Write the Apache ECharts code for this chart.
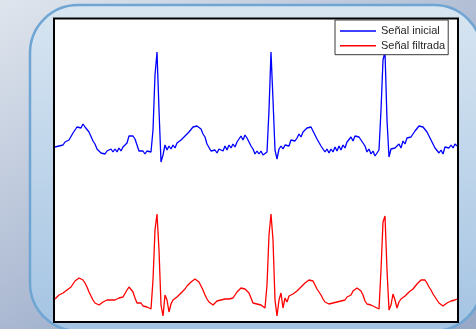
<!DOCTYPE html>
<html>
<head>
<meta charset="utf-8">
<script src="https://cdn.jsdelivr.net/npm/echarts@6/dist/echarts.min.js"></script>
<style>
  html, body { margin: 0; padding: 0; }
  #chart { width: 476px; height: 329px; }
</style>
</head>
<body>
<div id="chart"></div>
<script>
// ECG traces, one value per sample (sample index on the x axis).
const seriesNames = ['Señal inicial', 'Señal filtrada'];

// Raw signal (drawn in the upper half).
const senalInicial = [
  1.53,1.55,1.54,1.56,1.55,1.58,1.57,1.60,1.62,1.67,
  1.68,1.73,1.74,1.72,1.76,1.73,1.74,1.68,1.66,1.59,
  1.56,1.51,1.50,1.47,1.49,1.46,1.49,1.47,1.51,1.48,
  1.51,1.48,1.52,1.49,1.53,1.51,1.57,1.64,1.66,1.64,
  1.61,1.55,1.49,1.48,1.49,1.46,1.49,1.47,1.48,1.70,
  2.25,2.48,1.90,1.38,1.45,1.55,1.50,1.54,1.51,1.55,
  1.52,1.57,1.55,1.60,1.58,1.64,1.65,1.68,1.69,1.73,
  1.72,1.74,1.72,1.71,1.66,1.63,1.56,1.54,1.49,1.50,
  1.50,1.47,1.51,1.52,1.49,1.54,1.50,1.55,1.52,1.56,
  1.53,1.58,1.58,1.64,1.60,1.65,1.62,1.61,1.54,1.51,
  1.46,1.49,1.46,1.49,1.45,1.47,1.48,1.90,2.48,2.00,
  1.50,1.41,1.51,1.54,1.51,1.55,1.56,1.54,1.60,1.59,
  1.59,1.62,1.66,1.63,1.68,1.68,1.72,1.72,1.73,1.69,
  1.68,1.61,1.61,1.54,1.53,1.48,1.51,1.47,1.51,1.48,
  1.53,1.49,1.54,1.50,1.55,1.52,1.58,1.57,1.63,1.59,
  1.64,1.64,1.63,1.65,1.57,1.54,1.48,1.51,1.46,1.49,
  1.44,1.45,1.50,1.90,2.40,2.48,1.80,1.43,1.51,1.53,
  1.52,1.53,1.56,1.52,1.59,1.56,1.62,1.62,1.63,1.65,
  1.69,1.69,1.74,1.73,1.73,1.74,1.68,1.67,1.60,1.58,
  1.52,1.51,1.47,1.50,1.46,1.53,1.52,1.52,1.55,1.52,
  1.56,1.54
];

// Filtered signal (drawn in the lower half).
const senalFiltrada = [
  0.01,0.03,0.05,0.03,0.07,0.06,0.10,0.09,0.13,0.16,
  0.19,0.21,0.22,0.22,0.20,0.17,0.13,0.08,0.04,0.00,
  -0.03,-0.04,-0.05,-0.04,-0.02,-0.02,0.00,-0.01,0.00,0.01,
  0.00,0.01,0.02,0.01,0.03,0.05,0.10,0.13,0.12,0.08,
  0.02,-0.03,-0.05,-0.03,-0.06,-0.04,-0.07,-0.05,-0.09,0.20,
  0.70,0.86,0.50,-0.05,-0.16,0.05,0.00,-0.12,-0.04,0.00,
  -0.02,0.03,0.04,0.07,0.08,0.11,0.14,0.16,0.18,0.20,
  0.21,0.20,0.18,0.14,0.10,0.05,0.01,-0.02,-0.04,-0.05,
  -0.03,-0.01,-0.02,0.00,-0.01,0.01,0.00,0.01,0.03,0.02,
  0.04,0.08,0.10,0.12,0.11,0.11,0.10,0.07,0.02,-0.03,
  -0.05,-0.04,-0.06,-0.05,-0.07,-0.08,0.15,0.65,0.86,0.60,
  0.00,-0.16,0.00,0.07,-0.08,0.02,-0.02,0.04,0.02,0.06,
  0.07,0.09,0.11,0.13,0.15,0.17,0.18,0.20,0.20,0.19,
  0.15,0.11,0.08,0.05,0.01,-0.02,-0.03,-0.04,-0.05,-0.03,
  -0.01,-0.02,0.00,-0.01,0.01,0.00,0.03,0.02,0.05,0.09,
  0.11,0.12,0.11,0.09,0.05,-0.01,-0.04,-0.02,-0.05,-0.03,
  -0.07,-0.05,-0.09,0.30,0.78,0.84,0.30,-0.10,-0.05,0.06,
  0.00,-0.08,-0.02,0.01,-0.01,0.04,0.05,0.08,0.09,0.11,
  0.13,0.16,0.18,0.20,0.19,0.20,0.17,0.13,0.10,0.06,
  0.03,0.00,-0.03,-0.04,-0.06,-0.05,-0.03,-0.04,-0.01,0.00,
  0.00,0.01
];

const toPoints = arr => arr.map((v, i) => [i, v]);

const chart = echarts.init(document.getElementById('chart'), null, { renderer: 'canvas' });

chart.setOption({
  animation: false,
  backgroundColor: {
    type: 'linear', x: 0, y: 0, x2: 0.4, y2: 1,
    colorStops: [{ offset: 0, color: '#dfe5ed' }, { offset: 1, color: '#98a9c8' }]
  },
  graphic: [{
    type: 'rect',
    silent: true,
    z: -10,
    shape: { x: 30, y: 5, width: 452, height: 326, r: 48 },
    style: {
      fill: {
        type: 'linear', x: 0, y: 0, x2: 0, y2: 1,
        colorStops: [{ offset: 0, color: '#d8e5f1' }, { offset: 1, color: '#a4c4e3' }]
      },
      stroke: '#6fa5d3',
      lineWidth: 2.5
    }
  }],
  grid: {
    left: 54, top: 18.5, right: 18, bottom: 7,
    show: true,
    backgroundColor: '#ffffff',
    borderColor: '#000000',
    borderWidth: 2
  },
  legend: {
    data: seriesNames,
    orient: 'vertical',
    left: 335, top: 20,
    padding: [4, 3, 2, 5],
    itemGap: 0.7,
    itemWidth: 36,
    itemHeight: 1.5,
    itemTextGap: 3,
    icon: 'rect',
    backgroundColor: '#ffffff',
    borderColor: '#3a3a3a',
    borderWidth: 1,
    borderRadius: 0,
    textStyle: { fontFamily: 'Liberation Sans, Arial, sans-serif', fontSize: 11, color: '#262626', lineHeight: 14 }
  },
  xAxis: {
    type: 'value', min: -0.5, max: 201.5,
    show: false
  },
  yAxis: {
    type: 'value', min: -0.22, max: 2.815,
    show: false
  },
  series: [
    {
      name: seriesNames[0], type: 'line', data: toPoints(senalInicial),
      showSymbol: false, symbol: 'none',
      lineStyle: { color: '#0000ff', width: 1.3 },
      itemStyle: { color: '#0000ff' }
    },
    {
      name: seriesNames[1], type: 'line', data: toPoints(senalFiltrada),
      showSymbol: false, symbol: 'none',
      lineStyle: { color: '#ff0000', width: 1.3 },
      itemStyle: { color: '#ff0000' }
    }
  ]
});
</script>
</body>
</html>
